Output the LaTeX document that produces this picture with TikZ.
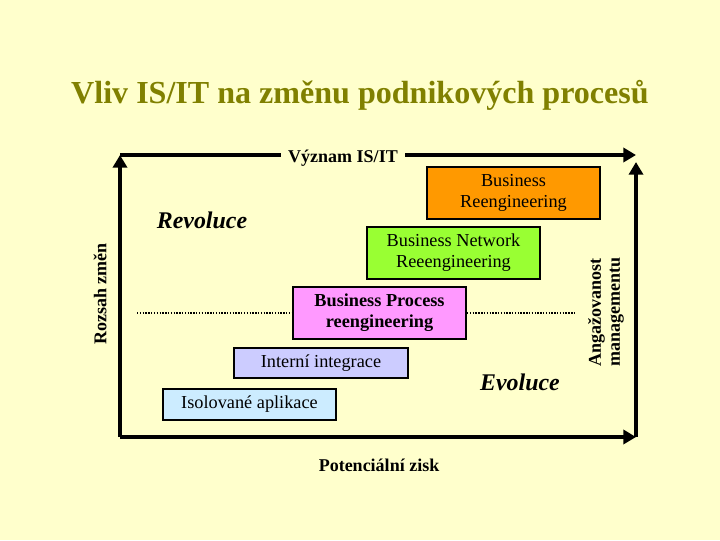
\documentclass[tikz,border=0pt]{standalone}
\usepackage{fontspec}
\setmainfont{Liberation Serif}
\usepackage{tikz}
\usetikzlibrary{arrows.meta}
\definecolor{bgyellow}{HTML}{FFFFCC}
\definecolor{titleolive}{HTML}{808000}
\definecolor{brorange}{HTML}{FF9900}
\definecolor{bnrgreen}{HTML}{99FF33}
\definecolor{bprpink}{HTML}{FF99FF}
\definecolor{iililac}{HTML}{CCCCFF}
\definecolor{iablue}{HTML}{CCECFF}
\tikzset{
  axis/.style={line width=3pt, -{Triangle[length=9pt,width=10pt]}},
  stage/.style={draw, line width=1.3pt, minimum width=4.33cm, align=center,
    font=\fontsize{13}{15}\selectfont, inner sep=2pt},
  tall/.style={stage, minimum height=1.3cm},
  flat/.style={stage, minimum height=0.76cm},
  lbl/.style={font=\fontsize{12.8}{13.5}\selectfont\bfseries, align=center}
}
\begin{document}
\begin{tikzpicture}[x=0.025cm, y=-0.025cm]
    \useasboundingbox[fill=bgyellow] (0,0) rectangle (720,540);
    \coordinate (BL) at (120,437);
    \coordinate (TL) at (120,155);
    \coordinate (TR) at (636,155);
    \coordinate (BR) at (636,437);

    % Title
    \node[text=titleolive, font=\fontsize{22.8}{26}\selectfont\bfseries] (title) at (360,95)
        {Vliv IS/IT na změnu podnikových procesů};

    % Frame
    \draw[axis] (BL) -- (TL);
    \draw[axis] (TL) -- (TR);
    \draw[axis, shorten >=5pt] (BR) -- (TR);
    \draw[axis] (BL) -- (BR);

    % Axis labels
    \node[lbl, fill=bgyellow, inner xsep=5pt] (vyznam) at (343,158) {Význam IS/IT};
    \node[lbl, rotate=90] (rozsah) at (100,294) {Rozsah změn};
    \node[lbl, rotate=90] (angaz) at (606,312) {Angažovanost\\managementu};
    \node[lbl] (zisk) at (379,465) {Potenciální zisk};
    \node[font=\fontsize{17}{20}\selectfont\bfseries\itshape] (revoluce) at (202,220) {Revoluce};
    \node[font=\fontsize{17}{20}\selectfont\bfseries\itshape] (evoluce) at (520,382) {Evoluce};

    % Stages
    \node[tall, fill=brorange] (br) at (513.5,193) {Business\\Reengineering};
    \node[tall, fill=bnrgreen] (bnr) at (453.5,253) {Business Network\\Reeengineering};
    \node[tall, fill=bprpink, font=\fontsize{13}{15}\selectfont\bfseries] (bpr) at (379.5,313)
        {Business Process\\reengineering};
    \node[flat, fill=iililac] (ii) at (321,363) {Interní integrace};
    \node[flat, fill=iablue] (ia) at (249.5,404.5) {Isolované aplikace};

    % Border between revolution and evolution
    \coordinate (dL) at (137,313);
    \coordinate (dR) at (574,313);
    \draw[line width=2pt, dash pattern=on 1pt off 1pt] (dL) -- (bpr.west);
    \draw[line width=2pt, dash pattern=on 1pt off 1pt] (bpr.east) -- (dR);
\end{tikzpicture}
\end{document}
